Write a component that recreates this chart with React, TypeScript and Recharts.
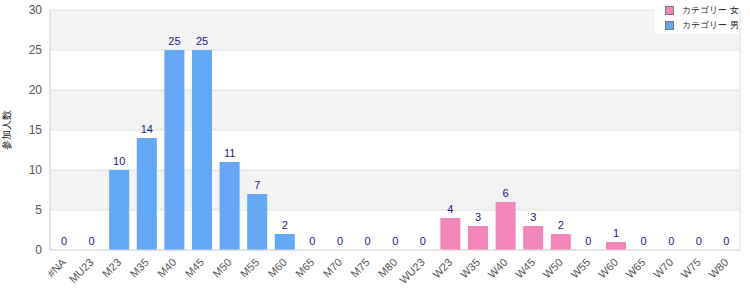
import React from "react";
import {
  BarChart,
  Bar,
  Cell,
  XAxis,
  YAxis,
  CartesianGrid,
  LabelList,
} from "recharts";

const categories = [
  "#NA", "MU23", "M23", "M35", "M40", "M45", "M50", "M55", "M60", "M65", "M70", "M75", "M80",
  "WU23", "W23", "W35", "W40", "W45", "W50", "W55", "W60", "W65", "W70", "W75", "W80",
];

// 0 = 男, 1 = 女
const groupOf = [0, 0, 0, 0, 0, 0, 0, 0, 0, 0, 0, 0, 0, 0, 1, 1, 1, 1, 1, 1, 1, 1, 1, 1, 1];
const counts = [0, 0, 10, 14, 25, 25, 11, 7, 2, 0, 0, 0, 0, 0, 4, 3, 6, 3, 2, 0, 1, 0, 0, 0, 0];

const legendNames = ["カテゴリー 女", "カテゴリー 男"];
const yTicks = [0, 5, 10, 15, 20, 25, 30];

const PINK = "#f485bb";
const BLUE = "#62a8f5";
const groupColors = [BLUE, PINK];
const legendColors = [PINK, BLUE];

const data = categories.map((name, i) => ({ name, count: counts[i], group: groupOf[i] }));

const FONT = "Liberation Sans, Arial, sans-serif";

function XTick({ x, y, payload }: any) {
  const tx = x + 3;
  const ty = y + 5;
  return (
    <text
      x={tx}
      y={ty}
      transform={`rotate(-45 ${tx} ${ty})`}
      textAnchor="end"
      fill="#555"
      fontSize={11}
      fontFamily={FONT}
    >
      {payload.value}
    </text>
  );
}

export default function App() {
  return (
    <div style={{ position: "absolute", left: 0, top: 0, width: 750, height: 300, background: "#fff" }}>
      <BarChart
        width={750}
        height={300}
        data={data}
        margin={{ top: 10, right: 10, bottom: 0, left: 0 }}
        barSize={20}
      >
        <CartesianGrid
          stroke="#e2e2e2"
          horizontalFill={["#f3f3f3", "#ffffff"]}
          verticalPoints={[50, 740]}
        />
        <XAxis
          dataKey="name"
          interval={0}
          height={50}
          tickLine={false}
          axisLine={{ stroke: "#d8d8d8" }}
          tick={<XTick />}
        />
        <YAxis
          domain={[0, 30]}
          ticks={yTicks}
          width={50}
          tickLine={false}
          axisLine={{ stroke: "#d8d8d8" }}
          tick={{ fill: "#555", fontSize: 12, fontFamily: FONT }}
          label={{
            value: "参加人数",
            angle: -90,
            position: "insideLeft",
            offset: 0,
            dx: 6,
            style: { fill: "#222", fontSize: 10, textAnchor: "middle" },
          }}
        />
        <Bar dataKey="count" minPointSize={0.01} isAnimationActive={false}>
          {data.map((d, i) => (
            <Cell key={i} fill={groupColors[d.group]} />
          ))}
          <LabelList dataKey="count" position="top" fill="#1a1a80" fontSize={11} fontFamily={FONT} />
        </Bar>
      </BarChart>
      <div
        style={{
          position: "absolute",
          top: 0,
          left: 655,
          width: 84,
          height: 34,
          boxSizing: "border-box",
          background: "#fff",
          padding: "3px 0 0 10px",
          fontFamily: FONT,
          fontSize: 9,
          color: "#222",
          whiteSpace: "nowrap",
        }}
      >
        {legendNames.map((n, i) => (
          <div key={n} style={{ display: "flex", alignItems: "center", height: 15 }}>
            <span
              style={{
                display: "inline-block",
                width: 7,
                height: 7,
                background: legendColors[i],
                border: "1px solid #777",
                marginRight: 8,
              }}
            />
            {n}
          </div>
        ))}
      </div>
    </div>
  );
}
